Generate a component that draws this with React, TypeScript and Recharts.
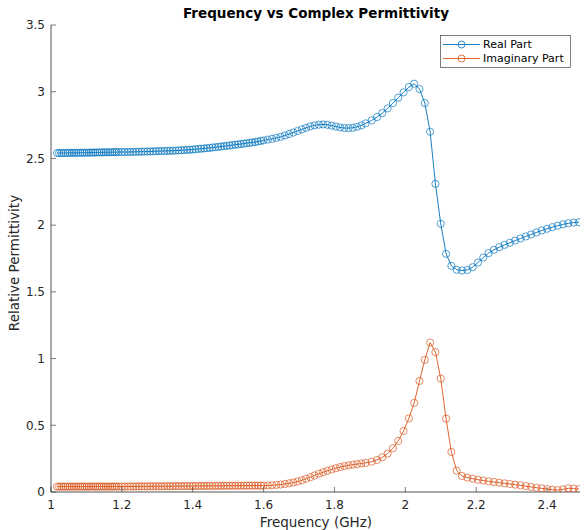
import React from 'react';
import { LineChart, Line, XAxis, YAxis } from 'recharts';

const frequencyGHz: number[] = [
  1.017, 1.023, 1.029, 1.035, 1.041, 1.047, 1.053, 1.059, 1.065, 1.071,
  1.077, 1.083, 1.089, 1.095, 1.101, 1.107, 1.113, 1.119, 1.125, 1.131,
  1.137, 1.143, 1.149, 1.155, 1.161, 1.167, 1.173, 1.179, 1.185, 1.191,
  1.2, 1.208, 1.216, 1.224, 1.232, 1.24, 1.248, 1.256, 1.264, 1.272,
  1.28, 1.288, 1.296, 1.304, 1.312, 1.32, 1.328, 1.336, 1.344, 1.352,
  1.36, 1.368, 1.376, 1.384, 1.392, 1.4, 1.408, 1.416, 1.424, 1.432,
  1.44, 1.448, 1.456, 1.464, 1.472, 1.48, 1.488, 1.496, 1.504, 1.512,
  1.52, 1.528, 1.536, 1.544, 1.552, 1.56, 1.568, 1.576, 1.584, 1.592,
  1.6, 1.612, 1.624, 1.636, 1.648, 1.66, 1.672, 1.684, 1.696, 1.708,
  1.72, 1.732, 1.744, 1.756, 1.768, 1.78, 1.792, 1.804, 1.816, 1.828,
  1.84, 1.852, 1.864, 1.876, 1.888,
  1.905, 1.92, 1.935, 1.95, 1.965, 1.98, 1.995, 2.01, 2.025, 2.04,
  2.055, 2.07, 2.085, 2.1, 2.115, 2.13, 2.145, 2.16, 2.175, 2.19,
  2.205, 2.22, 2.235, 2.25, 2.265, 2.28, 2.295, 2.31, 2.325, 2.34,
  2.355, 2.37, 2.385, 2.4, 2.415, 2.43, 2.445, 2.46, 2.475, 2.49,
];

const realPart: number[] = [
  2.540, 2.540, 2.541, 2.540, 2.541, 2.541, 2.542, 2.541, 2.542, 2.542,
  2.542, 2.543, 2.542, 2.543, 2.543, 2.543, 2.544, 2.544, 2.544, 2.545,
  2.545, 2.545, 2.546, 2.546, 2.546, 2.546, 2.547, 2.547, 2.547, 2.548,
  2.548, 2.548, 2.548, 2.549, 2.549, 2.550, 2.550, 2.551, 2.551, 2.552,
  2.552, 2.553, 2.554, 2.555, 2.555, 2.556, 2.557, 2.557, 2.558, 2.559,
  2.560, 2.561, 2.563, 2.564, 2.565, 2.567, 2.569, 2.571, 2.573, 2.575,
  2.577, 2.579, 2.582, 2.584, 2.587, 2.589, 2.592, 2.594, 2.597, 2.600,
  2.603, 2.605, 2.608, 2.611, 2.614, 2.617, 2.620, 2.623, 2.627, 2.631,
  2.635, 2.641, 2.647, 2.654, 2.662, 2.672, 2.683, 2.694, 2.706, 2.718,
  2.729, 2.740, 2.748, 2.753, 2.755, 2.752, 2.746, 2.739, 2.732, 2.728,
  2.727, 2.730, 2.737, 2.748, 2.763,
  2.785, 2.810, 2.840, 2.875, 2.915, 2.955, 2.995, 3.035, 3.060, 3.020,
  2.915, 2.700, 2.310, 2.010, 1.785, 1.695, 1.666, 1.660, 1.664, 1.685,
  1.720, 1.757, 1.790, 1.815, 1.835, 1.852, 1.868, 1.884, 1.900, 1.915,
  1.930, 1.945, 1.960, 1.973, 1.985, 1.996, 2.006, 2.014, 2.019, 2.022,
];

const imaginaryPart: number[] = [
  0.040, 0.040, 0.041, 0.040, 0.040, 0.041, 0.040, 0.041, 0.040, 0.041,
  0.041, 0.040, 0.041, 0.041, 0.040, 0.041, 0.041, 0.041, 0.040, 0.041,
  0.041, 0.041, 0.041, 0.040, 0.041, 0.041, 0.041, 0.041, 0.041, 0.041,
  0.041, 0.041, 0.041, 0.042, 0.041, 0.042, 0.042, 0.042, 0.042, 0.042,
  0.043, 0.042, 0.043, 0.043, 0.043, 0.043, 0.044, 0.043, 0.044, 0.044,
  0.044, 0.044, 0.045, 0.044, 0.045, 0.045, 0.045, 0.045, 0.046, 0.045,
  0.046, 0.046, 0.046, 0.046, 0.047, 0.046, 0.047, 0.047, 0.047, 0.047,
  0.047, 0.048, 0.047, 0.048, 0.048, 0.048, 0.048, 0.048, 0.048, 0.048,
  0.048, 0.049, 0.051, 0.053, 0.056, 0.060, 0.065, 0.071, 0.079, 0.088,
  0.099, 0.111, 0.124, 0.137, 0.148, 0.159, 0.169, 0.178, 0.187, 0.194,
  0.200, 0.205, 0.209, 0.214, 0.218,
  0.227, 0.240, 0.260, 0.288, 0.328, 0.383, 0.458, 0.552, 0.668, 0.832,
  0.990, 1.120, 1.048, 0.850, 0.550, 0.300, 0.160, 0.120, 0.108, 0.100,
  0.092, 0.086, 0.080, 0.075, 0.070, 0.065, 0.060, 0.055, 0.050, 0.044,
  0.038, 0.032, 0.027, 0.022, 0.018, 0.014, 0.020, 0.028, 0.025, 0.022,
];

const xTicks: number[] = [1, 1.2, 1.4, 1.6, 1.8, 2, 2.2, 2.4];
const yTicks: number[] = [0, 0.5, 1, 1.5, 2, 2.5, 3, 3.5];

const seriesNames = { real: 'Real Part', imag: 'Imaginary Part' };
const titleText = 'Frequency vs Complex Permittivity';
const xLabelText = 'Frequency (GHz)';
const yLabelText = 'Relative Permittivity';

const data = frequencyGHz.map((f, i) => ({ f, real: realPart[i], imag: imaginaryPart[i] }));

const BLUE = '#0072BD';
const ORANGE = '#D95319';
const INK = '#262626';
const FONT = '"DejaVu Sans", sans-serif';

const W = 584;
const H = 530;
const M = { top: 25, right: 4, bottom: 0, left: 0 };
const Y_AXIS_W = 51;
const X_AXIS_H = 38;

const BottomTick = (props: any) => {
  const { x, y, payload } = props;
  return (
    <g>
      <line x1={x} y1={y} x2={x} y2={y - 5} stroke={INK} strokeWidth={0.6} />
      <text x={x} y={y + 17} textAnchor="middle" fontSize={12} fontFamily={FONT} fill={INK}>
        {String(payload.value)}
      </text>
    </g>
  );
};
const TopTick = (props: any) => {
  const { x, y } = props;
  return <line x1={x} y1={y} x2={x} y2={y + 5} stroke={INK} strokeWidth={0.6} />;
};
const LeftTick = (props: any) => {
  const { x, y, payload } = props;
  return (
    <g>
      <line x1={x} y1={y} x2={x + 5} y2={y} stroke={INK} strokeWidth={0.6} />
      <text x={x - 6} y={y + 4.3} textAnchor="end" fontSize={12} fontFamily={FONT} fill={INK}>
        {String(payload.value)}
      </text>
    </g>
  );
};
const RightTick = (props: any) => {
  const { x, y } = props;
  return <line x1={x} y1={y} x2={x - 5} y2={y} stroke={INK} strokeWidth={0.6} />;
};

const dotStyle = (c: string) => ({ r: 3.6, fill: 'none', stroke: c, strokeWidth: 0.8, strokeOpacity: 0.85 });

export default function App() {
  return (
    <div style={{ position: 'absolute', left: 0, top: 0, width: W, height: H, background: '#fff' }}>
      <LineChart width={W} height={H} data={data} margin={M}>
        <XAxis
          xAxisId="b"
          dataKey="f"
          type="number"
          domain={[1, 2.493]}
          ticks={xTicks}
          allowDataOverflow
          height={X_AXIS_H}
          tickSize={0}
          tickMargin={0}
          tickLine={false}
          axisLine={{ stroke: INK, strokeWidth: 0.8 }}
          tick={<BottomTick />}
          interval={0}
        />
        <XAxis
          xAxisId="t"
          orientation="top"
          dataKey="f"
          type="number"
          domain={[1, 2.493]}
          ticks={xTicks}
          allowDataOverflow
          height={0}
          tickSize={0}
          tickMargin={0}
          tickLine={false}
          axisLine={{ stroke: INK, strokeWidth: 0.8 }}
          tick={<TopTick />}
          interval={0}
        />
        <YAxis
          yAxisId="l"
          type="number"
          domain={[0, 3.5]}
          ticks={yTicks}
          allowDataOverflow
          width={Y_AXIS_W}
          tickSize={0}
          tickMargin={0}
          tickLine={false}
          axisLine={{ stroke: INK, strokeWidth: 0.8 }}
          tick={<LeftTick />}
          interval={0}
        />
        <YAxis
          yAxisId="r"
          orientation="right"
          type="number"
          domain={[0, 3.5]}
          ticks={yTicks}
          allowDataOverflow
          width={0}
          tickSize={0}
          tickMargin={0}
          tickLine={false}
          axisLine={{ stroke: INK, strokeWidth: 0.8 }}
          tick={<RightTick />}
          interval={0}
        />
        <Line
          xAxisId="b"
          yAxisId="l"
          type="linear"
          dataKey="real"
          name={seriesNames.real}
          stroke={BLUE}
          strokeWidth={0.9}
          dot={dotStyle(BLUE)}
          isAnimationActive={false}
        />
        <Line
          xAxisId="b"
          yAxisId="l"
          type="linear"
          dataKey="imag"
          name={seriesNames.imag}
          stroke={ORANGE}
          strokeWidth={0.9}
          dot={dotStyle(ORANGE)}
          isAnimationActive={false}
        />
      </LineChart>
      <svg
        width={W}
        height={H}
        style={{ position: 'absolute', left: 0, top: 0, pointerEvents: 'none' }}
      >
        <text x={316} y={18.3} textAnchor="middle" fontSize={13.5} fontWeight="bold" fontFamily={FONT} fill="#000">
          {titleText}
        </text>
        <text x={316} y={526.5} textAnchor="middle" fontSize={13.5} fontFamily={FONT} fill={INK}>
          {xLabelText}
        </text>
        <text
          x={0}
          y={0}
          transform="translate(18.5 263) rotate(-90)"
          textAnchor="middle"
          fontSize={13.5}
          fontFamily={FONT}
          fill={INK}
        >
          {yLabelText}
        </text>
        <g>
          <rect x={440.5} y={35.5} width={130} height={32} fill="#fff" stroke={INK} strokeWidth={0.6} />
          <line x1={443} y1={44.5} x2={480} y2={44.5} stroke={BLUE} strokeWidth={0.9} />
          <circle cx={461.5} cy={44.5} r={3.5} fill="none" stroke={BLUE} strokeWidth={0.8} />
          <text x={483} y={48.3} fontSize={11} fontFamily={FONT} fill="#000">{seriesNames.real}</text>
          <line x1={443} y1={58.5} x2={480} y2={58.5} stroke={ORANGE} strokeWidth={0.9} />
          <circle cx={461.5} cy={58.5} r={3.5} fill="none" stroke={ORANGE} strokeWidth={0.8} />
          <text x={483} y={62.3} fontSize={11} fontFamily={FONT} fill="#000">{seriesNames.imag}</text>
        </g>
      </svg>
    </div>
  );
}
